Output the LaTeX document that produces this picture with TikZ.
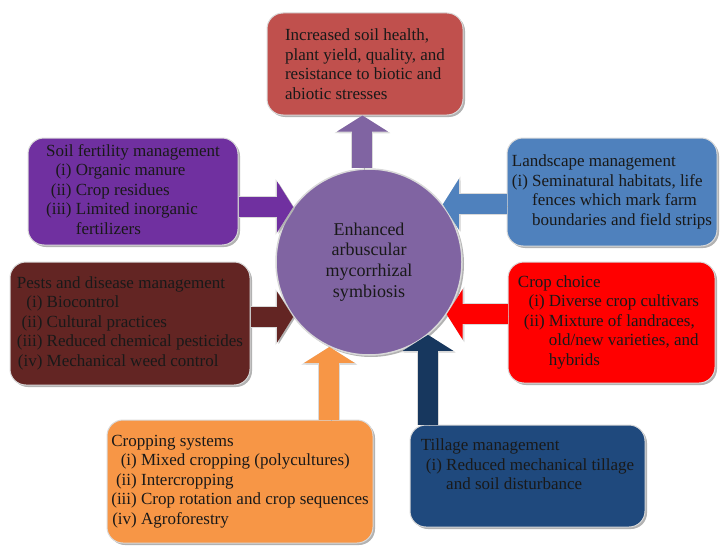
\documentclass[tikz,border=0pt]{standalone}
\usepackage{fontspec}
\setmainfont{Liberation Serif}
\usetikzlibrary{arrows.meta,shadows}

\definecolor{resred}{HTML}{C0504D}
\definecolor{soilpurple}{HTML}{7030A0}
\definecolor{landblue}{HTML}{4F81BD}
\definecolor{cropred}{HTML}{FF0000}
\definecolor{pestbrown}{HTML}{632523}
\definecolor{sysorange}{HTML}{F79646}
\definecolor{tillnavy}{HTML}{1F497D}
\definecolor{tillarrow}{HTML}{17375E}
\definecolor{amfviolet}{HTML}{8064A2}
\definecolor{rimgrey}{HTML}{D9D9D9}

\begin{document}
\begin{tikzpicture}[
    x=1pt, y=-1pt,
    >={Triangle[length=0pt 0.8, width=0pt 2.5]},
    box/.style={
        rounded corners=16pt, draw=rimgrey, line width=1pt, fill=#1,
        drop shadow={shadow xshift=2pt, shadow yshift=-2pt, fill=black, opacity=0.3},
        inner sep=2pt, align=left, text=black!90,
        font=\fontsize{17}{19.5}\selectfont
      },
    amfnode/.style={
        circle, fill=amfviolet, draw=rimgrey, line width=1.5pt,
        minimum size=186pt, inner sep=0pt, align=center, text=black!90,
        drop shadow={shadow xshift=2pt, shadow yshift=-2pt, fill=black, opacity=0.3},
        font=\fontsize{18}{20.7}\selectfont
      },
    blockarrow/.style={
        ->, line width=20pt, draw=#1,
        preaction={draw=black!30, transform canvas={shift={(1.5pt,-1.5pt)}}},
        preaction={draw=rimgrey, line width=22pt}
      },
  ]
  \useasboundingbox (0,0) rectangle (727,559);

  % centre
  \node[amfnode] (amf) at (369,262) {Enhanced\\arbuscular\\mycorrhizal\\symbiosis};

  % outcome on top
  \node[box=resred, minimum width=196pt, minimum height=102pt] (res) at (365,64)
    {Increased soil health,\\plant yield, quality, and\\resistance to biotic and\\abiotic stresses};

  % practices
  \node[box=soilpurple, minimum width=210pt, minimum height=107pt] (soil) at (133,191.5) {%
    \begin{tabular}{@{}r@{ }l@{}}
      \multicolumn{2}{@{}l@{}}{Soil fertility management}\\
      (i) & Organic manure\\
      (ii) & Crop residues\\
      (iii) & Limited inorganic\\
       & fertilizers
    \end{tabular}};
  \node[box=landblue, minimum width=210pt, minimum height=108pt] (land) at (612,192) {%
    \begin{tabular}{@{}r@{ }l@{}}
      \multicolumn{2}{@{}l@{}}{Landscape management}\\
      (i) & Seminatural habitats, life\\
       & fences which mark farm\\
       & boundaries and field strips
    \end{tabular}};
  \node[box=pestbrown, minimum width=240pt, minimum height=123pt] (pests) at (130,323.5) {%
    \begin{tabular}{@{}r@{ }l@{}}
      \multicolumn{2}{@{}l@{}}{Pests and disease management}\\
      (i) & Biocontrol\\
      (ii) & Cultural practices\\
      (iii) & Reduced chemical pesticides\\
      (iv) & Mechanical weed control
    \end{tabular}};
  \node[box=cropred, minimum width=207pt, minimum height=121pt] (crop) at (611.5,322.5) {%
    \begin{tabular}{@{}r@{ }l@{}}
      \multicolumn{2}{@{}l@{}}{\hspace*{-6pt}Crop choice}\\
      (i) & Diverse crop cultivars\\
      (ii) & Mixture of landraces,\\
       & old/new varieties, and\\
       & hybrids
    \end{tabular}};
  \node[box=sysorange, minimum width=266pt, minimum height=123pt] (cropsys) at (240,481.5) {%
    \begin{tabular}{@{}r@{ }l@{}}
      \multicolumn{2}{@{}l@{}}{Cropping systems}\\
      (i) & Mixed cropping (polycultures)\\
      (ii) & Intercropping\\
      (iii) & Crop rotation and crop sequences\\
      (iv) & Agroforestry
    \end{tabular}};
  \node[box=tillnavy, minimum width=235pt, minimum height=102pt] (till) at (527.5,476) {%
    \begin{tabular}{@{}r@{ }l@{}}
      \multicolumn{2}{@{}l@{}}{Tillage management}\\
      \hspace*{5pt}(i) & Reduced mechanical tillage\\
       & and soil disturbance\\
       & \mbox{}
    \end{tabular}};

  % block arrows
  \draw[blockarrow=amfviolet] (amf.94) -- (amf.94 |- res.south);
  \draw[blockarrow=soilpurple] (soil.east |- amf.144) -- (amf.144);
  \draw[blockarrow=pestbrown] (pests.east |- amf.216) -- (amf.216);
  \draw[blockarrow=landblue] (land.west |- amf.38) -- (amf.38);
  \draw[blockarrow=cropred] (crop.west |- amf.-34) -- (amf.-34);
  \draw[blockarrow=sysorange] (cropsys.north -| amf.245) -- (amf.245);
  \draw[blockarrow=tillarrow] (till.north -| amf.309) -- (amf.309);
\end{tikzpicture}
\end{document}
